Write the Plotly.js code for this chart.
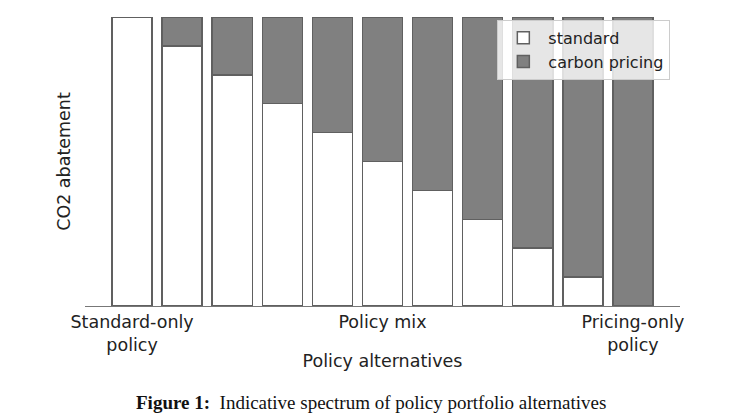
<!DOCTYPE html>
<html>
<head>
<meta charset="utf-8">
<script src="https://cdn.plot.ly/plotly-3.0.1.min.js"></script>
<style>html,body{margin:0;padding:0;background:#fff;}#chart{width:736px;height:419px;}</style>
</head>
<body>
<div id="chart"></div>
<script>
const positions = [0, 1, 2, 3, 4, 5, 6, 7, 8, 9, 10];
const standard = [1.0, 0.9, 0.8, 0.7, 0.6, 0.5, 0.4, 0.3, 0.2, 0.1, 0.0];
const carbonPricing = [0.0, 0.1, 0.2, 0.3, 0.4, 0.5, 0.6, 0.7, 0.8, 0.9, 1.0];
const tickPositions = [0, 5, 10];
const tickLabels = ["Standard-only<br>policy", "Policy mix", "Pricing-only<br>policy"];

const edge = {color: '#606060', width: 1.5};
const traces = [
  {type: 'bar', name: 'standard', x: positions, y: standard, width: 0.8,
   marker: {color: '#ffffff', line: edge}},
  {type: 'bar', name: 'carbon pricing', x: positions, y: carbonPricing, width: 0.8,
   marker: {color: '#808080', line: edge}}
];

const layout = {
  width: 736, height: 419,
  barmode: 'stack',
  margin: {l: 85, r: 56, t: 17, b: 113},
  paper_bgcolor: '#ffffff', plot_bgcolor: '#ffffff',
  font: {family: 'DejaVu Sans', size: 17.5, color: '#222222'},
  xaxis: {
    range: [-0.94, 10.94], tickvals: tickPositions, ticktext: tickLabels,
    showgrid: false, zeroline: false, showline: true, linecolor: '#777777', linewidth: 1.3,
    ticks: '', tickfont: {size: 17.5, color: '#222222'},
    title: {text: 'Policy alternatives', font: {size: 17.5, color: '#222222'}, standoff: 0},
    fixedrange: true
  },
  yaxis: {
    range: [0, 1], showticklabels: false, showgrid: false, zeroline: false, showline: false, ticks: '',
    title: {text: 'CO2 abatement', font: {size: 17.5, color: '#222222'}, standoff: 8},
    fixedrange: true
  },
  legend: {
    x: 0.693, y: 0.99, xanchor: 'left', yanchor: 'top',
    bgcolor: 'rgba(255,255,255,0.8)', bordercolor: '#cccccc', borderwidth: 1,
    font: {size: 16, color: '#222222'}, traceorder: 'normal', itemwidth: 40
  },
  annotations: [{
    xref: 'paper', yref: 'paper', x: 0.4807, y: -0.29, xanchor: 'center', yanchor: 'top', showarrow: false,
    text: '<b>Figure 1:</b>  Indicative spectrum of policy portfolio alternatives',
    font: {family: 'Liberation Serif', size: 19, color: '#111111'}
  }]
};

Plotly.newPlot('chart', traces, layout, {displayModeBar: false, staticPlot: true});
</script>
</body>
</html>
